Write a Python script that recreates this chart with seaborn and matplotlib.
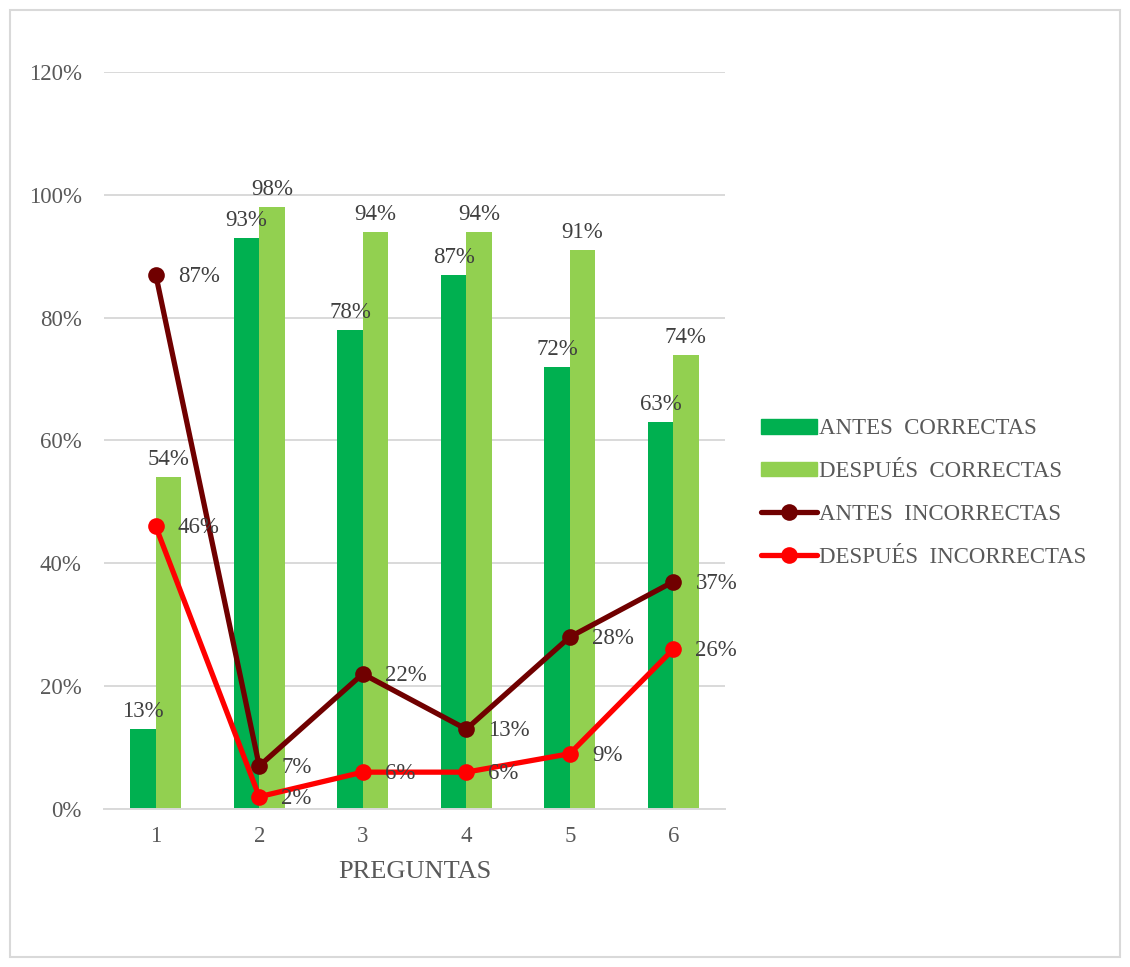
import numpy as np
import pandas as pd
import matplotlib
matplotlib.use("Agg")
import matplotlib.pyplot as plt
import seaborn as sns
from matplotlib.patches import Patch, Rectangle
from matplotlib.lines import Line2D

preguntas = ["1", "2", "3", "4", "5", "6"]
antes_correctas = [13, 93, 78, 87, 72, 63]
despues_correctas = [54, 98, 94, 94, 91, 74]
antes_incorrectas = [87, 7, 22, 13, 28, 37]
despues_incorrectas = [46, 2, 6, 6, 9, 26]
series_bar = ["ANTES  CORRECTAS", "DESPUÉS  CORRECTAS"]
series_line = ["ANTES  INCORRECTAS", "DESPUÉS  INCORRECTAS"]
yticks = [0, 20, 40, 60, 80, 100, 120]

c_ac = "#00B050"
c_dc = "#92D050"
c_ai = "#700000"
c_di = "#FF0000"
txt = "#404040"
txt2 = "#595959"

sns.set_theme(style="white")
plt.rcParams["font.family"] = ["Liberation Serif", "DejaVu Serif"]
FS = 16.5

fig = plt.figure(figsize=(11.3, 9.67), dpi=100)
ax = fig.add_axes([104/1130, 1-809/967, 621/1130, (809-72)/967])

df = pd.DataFrame({
    "pregunta": preguntas * 2,
    "valor": [v/100 for v in antes_correctas + despues_correctas],
    "serie": [series_bar[0]]*6 + [series_bar[1]]*6,
})
sns.barplot(data=df, x="pregunta", y="valor", hue="serie", order=preguntas,
            hue_order=series_bar, palette=[c_ac, c_dc], width=0.49, gap=0,
            saturation=1, ax=ax, legend=False, zorder=2, linewidth=0)

for cont in ax.containers:
    for bar in cont:
        h = bar.get_height()
        ax.annotate(f"{round(h*100):d}%", (bar.get_x()+bar.get_width()/2, h),
                    xytext=(0, 5), textcoords="offset points", ha="center",
                    va="bottom", fontsize=FS, color=txt, zorder=5)

idx = np.arange(len(preguntas))
for vals, col in [(antes_incorrectas, c_ai), (despues_incorrectas, c_di)]:
    yv = [v/100 for v in vals]
    sns.lineplot(x=idx, y=yv, color=col, linewidth=3.8, marker="o",
                 markersize=12, markeredgewidth=0, ax=ax, zorder=4)
    for xi, v in zip(idx, vals):
        ax.annotate(f"{v}%", (xi, v/100), xytext=(16, -1), textcoords="offset points",
                    ha="left", va="center", fontsize=FS, color=txt, zorder=5)

ax.set_xlim(-0.5, 5.5)
ax.set_ylim(0, 1.2)
ax.set_yticks([t/100 for t in yticks])
ax.set_yticklabels([f"{t}%" for t in yticks], fontsize=FS, color=txt2)
ax.set_xticks(idx)
ax.set_xticklabels(preguntas, fontsize=FS, color=txt2)
ax.set_xticks(np.arange(-0.5, 6, 1), minor=True)
ax.tick_params(axis="x", which="major", length=0, pad=12)
ax.tick_params(axis="x", which="minor", length=7, color="#D9D9D9", width=1.3, direction="out")
ax.tick_params(axis="y", length=0, pad=16)
ax.yaxis.grid(True, color="#D9D9D9", linewidth=1.4, zorder=0)
ax.set_axisbelow(True)
for s in ["left", "right", "top"]:
    ax.spines[s].set_visible(False)
ax.spines["bottom"].set_color("#D9D9D9")
ax.spines["bottom"].set_linewidth(1.4)
ax.set_xlabel("PREGUNTAS", fontsize=19, color=txt2, labelpad=10)
ax.set_ylabel("")

handles = [Patch(color=c_ac), Patch(color=c_dc),
           Line2D([], [], color=c_ai, lw=3.8, marker="o", markersize=12, markeredgewidth=0),
           Line2D([], [], color=c_di, lw=3.8, marker="o", markersize=12, markeredgewidth=0)]
leg = fig.legend(handles, series_bar + series_line, loc="center left",
                 bbox_to_anchor=(740/1130, 1-493/967), frameon=False,
                 fontsize=FS, labelcolor=txt2, handlelength=2.45, handletextpad=0.08,
                 labelspacing=0.95, handleheight=0.6)

fig.patches.append(Rectangle((10/1130, 10/967), 1110/1130, 947/967, transform=fig.transFigure,
                             fill=False, edgecolor="#D9D9D9", linewidth=1.5))
fig.savefig("out.png", dpi=100)
